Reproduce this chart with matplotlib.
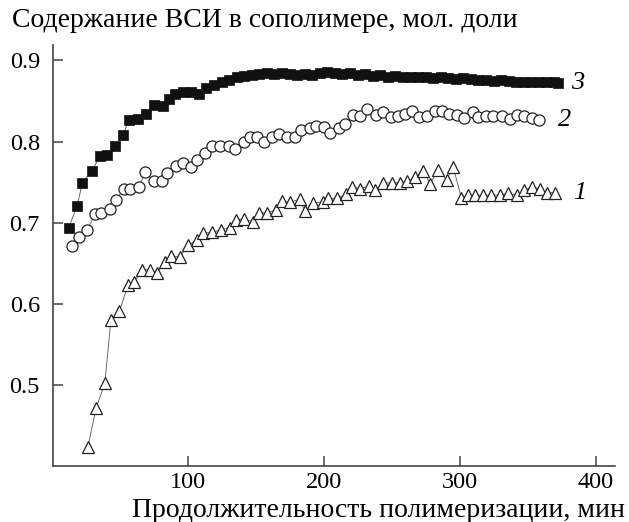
import matplotlib
matplotlib.use("Agg")
import matplotlib.pyplot as plt

plt.rcParams['font.family'] = ['Liberation Serif', 'DejaVu Serif']

# Series 3 (filled squares)
x3 = [12, 18, 22, 29, 35, 40, 46, 52, 56, 63, 69, 75, 81, 86, 90, 96, 102, 108, 113, 119,
      125, 130, 136, 141, 147, 152, 158, 163, 169, 175, 180, 186, 191, 197, 202, 208, 213, 219,
      225, 230, 236, 241, 247, 252, 258, 264, 269, 275, 280, 286, 291, 297, 302, 308, 313, 319,
      325, 330, 336, 341, 347, 352, 358, 363, 369, 372]
y3 = [0.694, 0.720, 0.749, 0.764, 0.782, 0.784, 0.795, 0.808, 0.826, 0.828, 0.834, 0.845, 0.844,
      0.852, 0.858, 0.861, 0.861, 0.858, 0.866, 0.870, 0.873, 0.876, 0.880, 0.881, 0.882, 0.883,
      0.884, 0.883, 0.884, 0.883, 0.882, 0.883, 0.882, 0.884, 0.886, 0.884, 0.883, 0.884, 0.882,
      0.883, 0.881, 0.882, 0.880, 0.881, 0.880, 0.880, 0.879, 0.880, 0.878, 0.879, 0.878, 0.877,
      0.878, 0.877, 0.876, 0.876, 0.875, 0.876, 0.875, 0.874, 0.874, 0.874, 0.873, 0.873, 0.873,
      0.872]

# Series 2 (open circles)
x2 = [14.5, 19.3, 25.5, 31.6, 36, 42.6, 47, 52.4, 57.4, 63.5, 68.4, 74.5, 80.6, 84.3, 91.2, 96,
      102, 106.4, 112.5, 117.4, 123.5, 129.6, 134.6, 140.7, 145, 150.5, 155.4, 161.5, 166.4,
      172.6, 178.7, 182.8, 189.7, 194, 200, 204.4, 210.5, 215.4, 221.5, 226, 231.8, 238.2, 243,
      249, 254.6, 259.6, 264.5, 270, 275.5, 281.6, 287, 292, 297.6, 303, 309.3, 313.5, 319,
      324.5, 330.7, 336.8, 342, 347, 352.7, 358.3]
y2 = [0.671, 0.682, 0.691, 0.711, 0.712, 0.717, 0.728, 0.742, 0.741, 0.744, 0.762, 0.751, 0.751,
      0.761, 0.770, 0.774, 0.768, 0.777, 0.786, 0.794, 0.794, 0.794, 0.791, 0.799, 0.805, 0.805,
      0.800, 0.806, 0.809, 0.806, 0.806, 0.814, 0.817, 0.819, 0.818, 0.810, 0.817, 0.821, 0.833,
      0.832, 0.840, 0.833, 0.837, 0.830, 0.832, 0.834, 0.838, 0.830, 0.831, 0.838, 0.838, 0.834,
      0.833, 0.829, 0.836, 0.830, 0.832, 0.832, 0.832, 0.828, 0.833, 0.832, 0.829, 0.826]

# Series 1 (open triangles)
x1 = [26, 32, 38.5, 43, 49.3, 55.6, 60.3, 66, 72, 77, 83, 87.5, 93.6, 100, 106.4, 111, 117.4,
      124, 130.4, 135, 140.7, 147.6, 151.7, 158, 164.7, 169, 175, 181.8, 186, 192, 199, 203,
      209.3, 216, 220.4, 226.5, 232.6, 237.5, 243, 249.8, 256, 260.8, 267, 273, 277.9, 284, 290,
      295, 301, 306, 311, 317, 323, 329, 335.5, 341.7, 347, 352.7, 358.8, 363.7, 370]
y1 = [0.423, 0.471, 0.502, 0.580, 0.591, 0.623, 0.627, 0.642, 0.642, 0.638, 0.652, 0.659, 0.658,
      0.672, 0.679, 0.687, 0.688, 0.691, 0.694, 0.703, 0.705, 0.701, 0.712, 0.712, 0.716, 0.727,
      0.725, 0.729, 0.714, 0.724, 0.726, 0.730, 0.730, 0.735, 0.744, 0.742, 0.745, 0.740, 0.749,
      0.749, 0.749, 0.751, 0.756, 0.764, 0.748, 0.765, 0.753, 0.768, 0.730, 0.734, 0.734, 0.734,
      0.734, 0.734, 0.736, 0.734, 0.740, 0.744, 0.742, 0.737, 0.737]

series_labels = ['1', '2', '3']
xticks = [100, 200, 300, 400]
yticks = [0.5, 0.6, 0.7, 0.8, 0.9]
ylabel = 'Содержание ВСИ в сополимере, мол. доли'
xlabel = 'Продолжительность полимеризации, мин'

fig = plt.figure(figsize=(6.29, 5.22), dpi=100)
ax = fig.add_axes([52.5/629, 56/522, (615-52.5)/629, (466-45)/522])

lc = '#555555'
ax.plot(x1, y1, marker='^', ms=9, mfc='white', mec='#222222', mew=0.9,
        color=lc, lw=0.6, zorder=2)
ax.plot(x2, y2, marker='o', ms=8, mfc='white', mec='#222222', mew=0.9,
        color=lc, lw=0.6, zorder=2)
ax.plot(x3, y3, marker='s', ms=7, mfc='#111111', mec='#111111', mew=0.5,
        color=lc, lw=0.6, zorder=3)

ax.text(x1[-1] + 13, y1[-1], series_labels[0], fontsize=19, style='italic', va='center', ha='left')
ax.text(x2[-1] + 14, y2[-1], series_labels[1], fontsize=19, style='italic', va='center', ha='left')
ax.text(x3[-1] + 10, y3[-1], series_labels[2], fontsize=19, style='italic', va='center', ha='left')

ax.set_xlim(0, 414)
ax.set_ylim(0.4, 0.919)
ax.set_xticks(xticks)
ax.set_yticks(yticks)
ax.set_yticklabels(['%.1f' % v for v in yticks])
for s in ['top', 'right']:
    ax.spines[s].set_visible(False)
for s in ['left', 'bottom']:
    ax.spines[s].set_color('#444444')
    ax.spines[s].set_linewidth(1.2)
ax.tick_params(direction='in', length=7, width=1.1, color='#444444', labelsize=17.5)
ax.tick_params(axis='x', pad=4)
ax.tick_params(axis='y', pad=9)

fig.text(12/629, 1 - 27/522, ylabel, fontsize=20, ha='left', va='baseline')
fig.text(625/629, 1 - 517/522, xlabel, fontsize=20, ha='right', va='baseline')

fig.savefig('out.png', dpi=100)
